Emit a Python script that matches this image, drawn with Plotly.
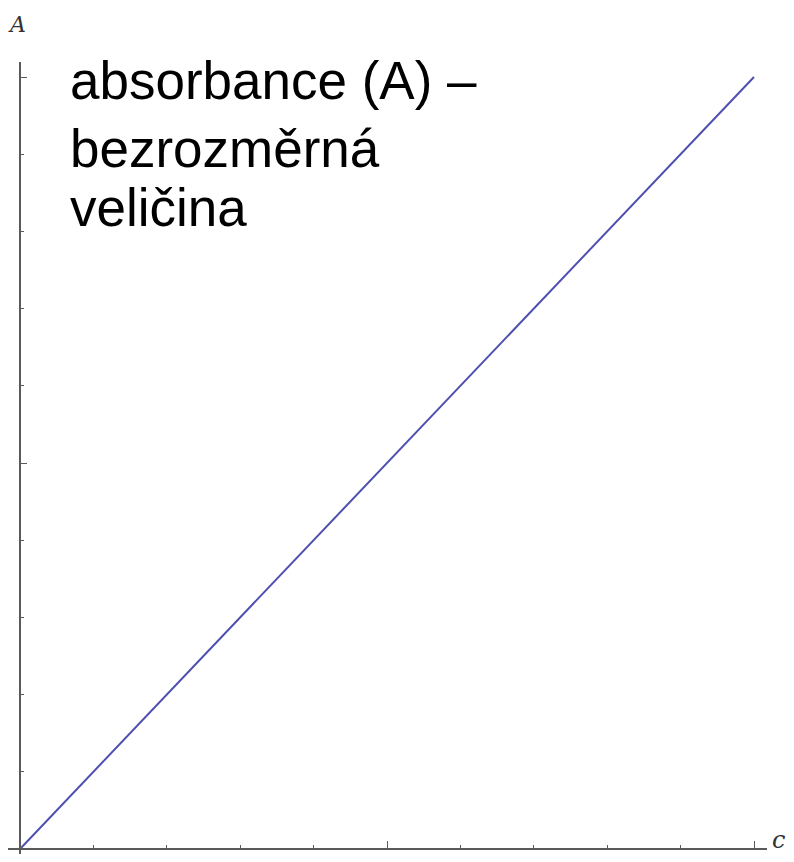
import plotly.graph_objects as go

# Data
conc = [0.0, 1.0]
absorb = [0.0, 1.0]
x_major_ticks = [0.0, 0.5, 1.0]
y_major_ticks = [0.0, 0.5, 1.0]
label_lines = ["absorbance (A) –", "bezrozměrná", "veličina"]

W, H = 786, 846
OFF = 8  # page body margin offset
# pixel mapping (figure pixels)
ox, oy = 20 - OFF, 849 - OFF
sx, sy = 734, 772
x0 = -ox / sx
x1 = x0 + W / sx
y1 = oy / sy
y0 = -(H - oy) / sy
xpos = (0 - y0) / (y1 - y0)
ypos = (0 - x0) / (x1 - x0)

fig = go.Figure()
fig.add_trace(go.Scatter(x=conc, y=absorb, mode="lines",
                         line=dict(color="#4f4fb0", width=2), hoverinfo="skip",
                         showlegend=False))

axis_col = "#5a5a5a"
# axis lines
fig.add_shape(type="line", xref="x", yref="y",
              x0=(5 - OFF - ox) / sx, x1=(767 - OFF - ox) / sx, y0=0, y1=0,
              line=dict(color=axis_col, width=2))
fig.add_shape(type="line", xref="x", yref="y", x0=0, x1=0,
              y0=y0, y1=(oy - (62 - OFF)) / sy,
              line=dict(color=axis_col, width=2))

fig.update_xaxes(range=[x0, x1], showgrid=False, zeroline=False, showline=False,
                 anchor="free", position=xpos, tickvals=x_major_ticks, ticks="inside",
                 ticklen=8, tickwidth=1, tickcolor=axis_col, showticklabels=False,
                 minor=dict(dtick=0.1, tick0=0, ticks="inside", ticklen=4, tickwidth=1,
                            tickcolor=axis_col, showgrid=False))
fig.update_yaxes(range=[y0, y1], showgrid=False, zeroline=False, showline=False,
                 anchor="free", position=ypos, tickvals=y_major_ticks, ticks="inside",
                 ticklen=6, tickwidth=1, tickcolor=axis_col, showticklabels=False,
                 minor=dict(dtick=0.1, tick0=0, ticks="inside", ticklen=3, tickwidth=1,
                            tickcolor=axis_col, showgrid=False))

fig.add_annotation(xref="paper", yref="paper", x=(17 - OFF) / W, y=1 - (25 - OFF) / H,
                   text="<i>A</i>", showarrow=False,
                   font=dict(family="DejaVu Serif", size=22, color="#333"),
                   xanchor="center", yanchor="middle")
fig.add_annotation(xref="paper", yref="paper", x=(778 - OFF) / W, y=1 - (840 - OFF) / H,
                   text="<i>c</i>", showarrow=False,
                   font=dict(family="DejaVu Serif", size=24, color="#333"),
                   xanchor="center", yanchor="middle")

centers = [80, 149, 207]
for txt, cy in zip(label_lines, centers):
    fig.add_annotation(xref="paper", yref="paper", x=(68 - OFF) / W, y=1 - (cy - OFF) / H,
                       text=txt, showarrow=False, align="left", xanchor="left",
                       yanchor="middle",
                       font=dict(family="Liberation Sans, Arial", size=53, color="black"))

fig.update_layout(width=W, height=H, margin=dict(l=0, r=0, t=0, b=0),
                  plot_bgcolor="white", paper_bgcolor="white")
fig.write_html("out.html")
